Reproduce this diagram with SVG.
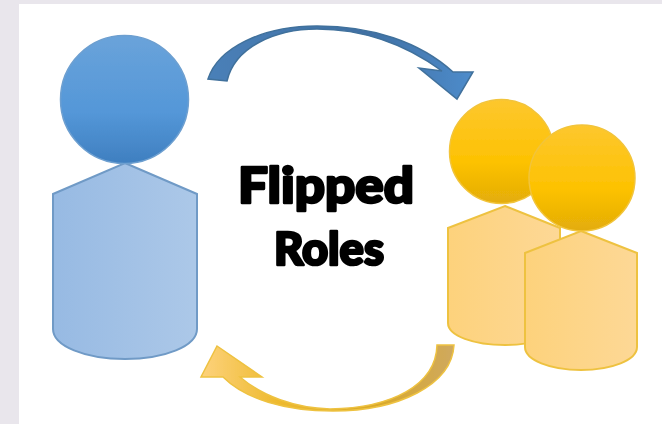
<svg xmlns="http://www.w3.org/2000/svg" width="662" height="424" viewBox="0 0 662 424">
<style>
.bb{fill:url(#bBody);stroke:#6f9ac6;stroke-width:2}
.bh{fill:url(#bHead);stroke:#6d9fd0;stroke-width:1.5}
.yb{fill:url(#yBody);stroke:#eec241;stroke-width:2}
.yh{fill:url(#yHead);stroke:#f2c43a;stroke-width:1.5}
.t{font-family:"Lato","Open Sans",sans-serif;font-weight:900;fill:#000;stroke:#000;stroke-width:2.6;stroke-linejoin:round}
.soft{filter:url(#soft)}
</style>
<defs>
<filter id="soft" x="-5%" y="-5%" width="110%" height="110%"><feGaussianBlur stdDeviation="0.6"/></filter>
<linearGradient id="bHead" x1="0" y1="0" x2="0" y2="1"><stop offset="0" stop-color="#6aa3da"/><stop offset=".6" stop-color="#5497d8"/><stop offset="1" stop-color="#3f7fc0"/></linearGradient>
<linearGradient id="bBody" x1="0" y1="0" x2="1" y2="0"><stop offset="0" stop-color="#97bae3"/><stop offset="1" stop-color="#acc8e8"/></linearGradient>
<linearGradient id="yHead" x1="0" y1="0" x2="0" y2="1"><stop offset="0" stop-color="#fdc72e"/><stop offset=".6" stop-color="#fdc202"/><stop offset="1" stop-color="#e3ac08"/></linearGradient>
<linearGradient id="yBody" x1="0" y1="0" x2="1" y2="0"><stop offset="0" stop-color="#fdd27c"/><stop offset="1" stop-color="#fdd896"/></linearGradient>
<linearGradient id="bArrow" x1="0" y1="0" x2="1" y2="0"><stop offset="0" stop-color="#4a80b8"/><stop offset=".6" stop-color="#3f6fa3"/><stop offset="1" stop-color="#4e8ccb"/></linearGradient>
<linearGradient id="yArrow" x1="1" y1="0" x2="0" y2="0"><stop offset="0" stop-color="#cfa95f"/><stop offset=".3" stop-color="#d9a92a"/><stop offset=".7" stop-color="#eeba2f"/><stop offset="1" stop-color="#fdd27c"/></linearGradient>
</defs>
<rect width="662" height="424" fill="#e9e6ec"/>
<rect x="19" y="4" width="643" height="420" fill="#fff"/>
<g id="connectors" class="soft">
<path id="arrow-top" d="M208 79C218 48 262 26 317 26C372 26 420 42 453 72L473 72L457 99L419 68L442 71C405 44 362 29 317 29C275 29 235 47 227 81Z" fill="url(#bArrow)" stroke="#41719c" stroke-width="1.5"/>
<path id="arrow-bottom" d="M454 345C452 385 398 411 333 411C285 411 245 399 223 377L201 377L217 346L262 377L240 377C262 396 295 408 330 409C392 408 436 385 437 345Z" fill="url(#yArrow)" stroke="#eec241" stroke-width="1.5"/>
</g>
<g id="person-blue" class="soft">
<path class="bb" d="M125 163L197 194V329C197 346 165 359 125 359C85 359 53 346 53 329V194Z"/>
<circle class="bh" cx="124.500" cy="99.500" r="64"/>
</g>
<g id="person-yellow-1" class="soft">
<path class="yb" d="M505 206L560 228V323C560 336 535 345 505 345C474 345 448 336 448 323V228Z"/>
<circle class="yh" cx="501.500" cy="151.500" r="52"/>
</g>
<g id="person-yellow-2" class="soft">
<path class="yb" d="M581 231L637 253V347C637 360 612 370 581 370C550 370 525 360 525 347V253Z"/>
<circle class="yh" cx="582" cy="178" r="53"/>
</g>
<g id="label" class="soft">
<text class="t" x="238" y="203" font-size="50" textLength="176" lengthAdjust="spacingAndGlyphs">Flipped</text>
<text class="t" x="274" y="265" font-size="46" textLength="110" lengthAdjust="spacingAndGlyphs">Roles</text>
</g>
</svg>
